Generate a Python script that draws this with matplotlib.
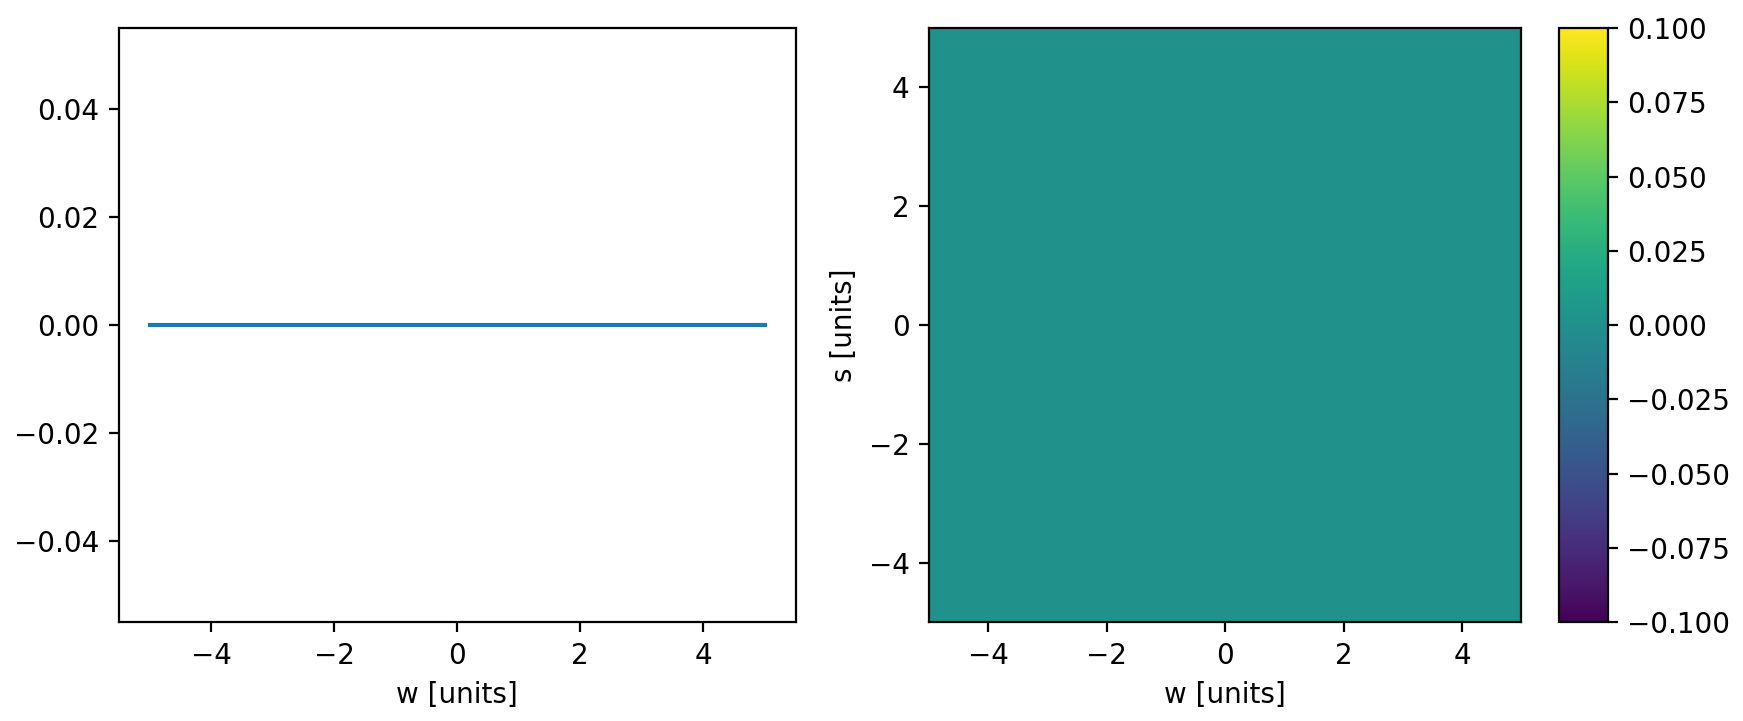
import numpy as np
import matplotlib
matplotlib.use("Agg")
import matplotlib.pyplot as plt

w = [-5.0, 5.0]
line_vals = [0.0, 0.0]
w_edges = [-5.0, 5.0]
s_edges = [-5.0, 5.0]
grid_vals = [[0.0]]

DPI = 200
fig = plt.figure(figsize=(1743 / DPI, 721 / DPI), dpi=DPI)
H = 721; W = 1743
k = 1743 / 1560
kx = k * 0.9945
def rect(x0, x1, y0, y1):
    x0, x1, y0, y1 = x0 * kx, x1 * kx, y0 * k, y1 * k
    return [x0 / W, 1 - y1 / H, (x1 - x0) / W, (y1 - y0) / H]

ax1 = fig.add_axes(rect(107, 716, 25, 557))
ax1.plot(w, line_vals, color="#1f77b4", lw=1.5)
ax1.set_xlabel("w [units]")
ax1.set_xticks([-4, -2, 0, 2, 4])

ax2 = fig.add_axes(rect(836, 1369, 25, 557))
m = ax2.pcolormesh(w_edges, s_edges, np.array(grid_vals), cmap="viridis", vmin=-0.1, vmax=0.1)
ax2.set_xlabel("w [units]")
ax2.set_ylabel("s [units]")
ax2.set_xticks([-4, -2, 0, 2, 4])
ax2.set_yticks([-4, -2, 0, 2, 4])

cax = fig.add_axes(rect(1403, 1447, 25, 557))
cb = fig.colorbar(m, cax=cax)
cb.set_ticks([-0.1, -0.075, -0.05, -0.025, 0, 0.025, 0.05, 0.075, 0.1])

fig.savefig("out.png", dpi=DPI)
